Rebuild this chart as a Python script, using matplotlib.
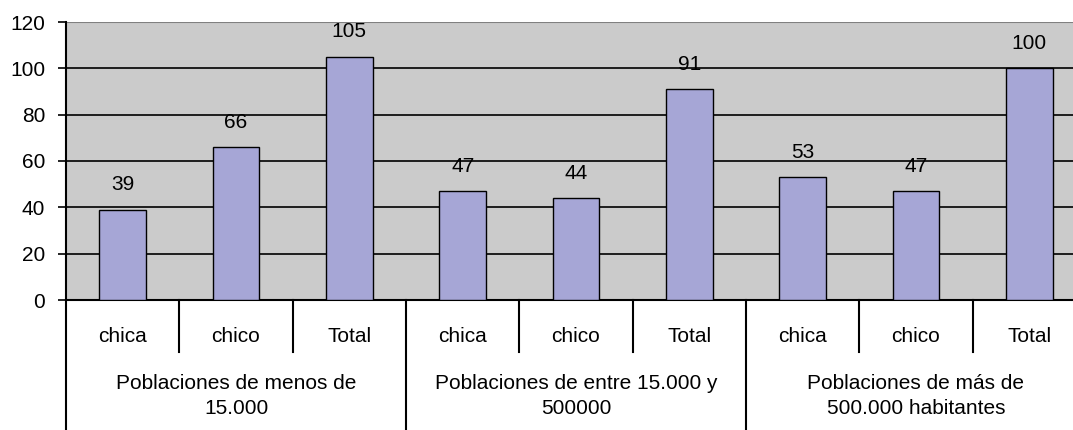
import matplotlib.pyplot as plt
import matplotlib.transforms as mtransforms

plt.rcParams['font.family'] = ['Liberation Sans', 'DejaVu Sans']

sub_labels = ['chica', 'chico', 'Total'] * 3
group_labels = ['Poblaciones de menos de\n15.000',
                'Poblaciones de entre 15.000 y\n500000',
                'Poblaciones de más de\n500.000 habitantes']
values = [39, 66, 105, 47, 44, 91, 53, 47, 100]

fig = plt.figure(figsize=(10.73, 4.3), dpi=100)
ax = fig.add_axes([66 / 1073, 130 / 430, 1020 / 1073, 278 / 430])
ax.set_facecolor('#CBCBCB')

x = list(range(len(values)))
ax.bar(x, values, width=0.41, color='#A6A6D6', edgecolor='black', linewidth=1, zorder=3)
for xi, v in zip(x, values):
    ax.annotate(str(v), (xi, v), xytext=(0, 18), textcoords='offset points',
                ha='center', va='center', fontsize=15)

ax.set_xlim(-0.5, 8.5)
ax.set_ylim(0, 120)
ax.set_yticks(range(0, 121, 20))
ax.tick_params(axis='y', labelsize=15, length=6, width=1.2, direction='out', pad=9)
ax.set_xticks([])
ax.yaxis.grid(True, color='black', linewidth=1.2, zorder=1)
ax.set_axisbelow(True)
for s in ['top', 'right']:
    ax.spines[s].set_visible(False)
ax.spines['left'].set_linewidth(1.5)
ax.spines['bottom'].set_linewidth(1.5)
ax.axhline(120, color='#808080', linewidth=1.5, zorder=2)

# two-level category axis
trans = mtransforms.blended_transform_factory(ax.transData, ax.transAxes)
axh = 278.0  # axes height in px
for i in range(1, 9):
    if i % 3 == 0:
        y0 = -130 / axh
    else:
        y0 = -52 / axh
    ax.plot([i - 0.5, i - 0.5], [0, y0], transform=trans, color='black',
            linewidth=1.5, clip_on=False)
ax.plot([-0.5, -0.5], [0, -130 / axh], transform=trans, color='black',
        linewidth=1.5, clip_on=False)
for xi, lab in zip(x, sub_labels):
    ax.text(xi, -36 / axh, lab, transform=trans, ha='center', va='center', fontsize=15)
for g, lab in enumerate(group_labels):
    ax.text(3 * g + 1, -96 / axh, lab, transform=trans, ha='center', va='center',
            fontsize=15, linespacing=1.35)

fig.savefig('out.png', dpi=100)
